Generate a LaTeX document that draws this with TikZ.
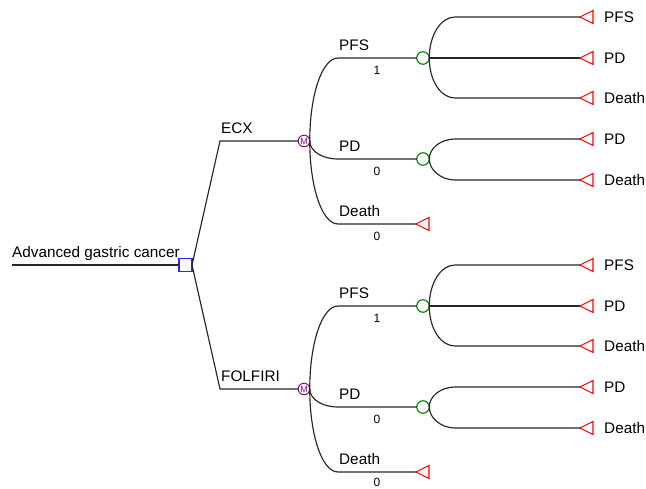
\documentclass[tikz,border=0pt]{standalone}
\usepackage{fontspec}
\setmainfont{Liberation Sans}
\usetikzlibrary{shapes.geometric}
\definecolor{mkv}{RGB}{153,0,153}
\definecolor{chc}{RGB}{0,128,0}
\definecolor{dcs}{RGB}{40,40,255}
\definecolor{trm}{RGB}{255,0,0}
\tikzset{
  branch/.style={draw=black!85, line width=1.15pt},
  markov/.style={circle, draw=mkv, line width=1pt, fill=white, inner sep=0pt, outer sep=0pt,
    minimum size=11.5pt, text=mkv, font=\fontsize{9}{9}\selectfont},
  chance/.style={circle, draw=chc, line width=1.1pt, fill=white, inner sep=0pt, outer sep=0pt, minimum size=12.5pt},
  decision/.style={rectangle, draw=dcs, line width=1.1pt, fill=white, inner sep=0pt, outer sep=0pt, minimum size=13pt},
  term/.style={isosceles triangle, isosceles triangle stretches, shape border rotate=180,
    draw=trm, line width=1.1pt, fill=white, inner sep=0pt, outer sep=0pt,
    minimum width=13pt, minimum height=13pt, anchor=apex},
  lbl/.style={inner sep=0pt, anchor=base west, font=\fontsize{15.3}{18}\selectfont},
  prob/.style={inner sep=0pt, anchor=base, font=\fontsize{12}{14}\selectfont},
}
\begin{document}
\begin{tikzpicture}[x=1pt,y=-1pt]
\useasboundingbox (0,0) rectangle (646,488);
\coordinate (root) at (12,265);
\node[decision] (dec) at (185.5,265) {};
\draw[branch] (root) -- (dec.west);
\node[lbl] (rootlbl) at (12,257) {Advanced gastric cancer};
\foreach \g/\lab/\dy/\nb in {1/ECX/0/240.5, 2/FOLFIRI/248/238} {
  \coordinate (arm\g) at (220,141+\dy);
  \node[markov] (m\g) at (304,141+\dy) {M};
  \draw[branch] (dec.east) -- (arm\g) -- (m\g.west);
  \node[lbl] (armlbl\g) at (221,133+\dy) {\lab};
  % first-level outcomes
  \coordinate (p\g) at (338,58+\dy);
  \coordinate (d\g) at (338,159+\dy);
  \coordinate (x\g) at (338,224+\dy);
  \node[chance] (cp\g) at (423,58+\dy) {};
  \node[chance] (cd\g) at (423,159+\dy) {};
  \node[term] (tx\g) at (416,224+\dy) {};
  \draw[branch] (m\g.east) .. controls +(0,-46) and +(-16,0) .. (p\g) -- (cp\g.west);
  \draw[branch] (m\g.east) .. controls +(0,10) and +(-16,0) .. (d\g) -- (cd\g.west);
  \draw[branch] (m\g.east) .. controls +(0,46) and +(-16,0) .. (x\g) -- (tx\g.apex);
  \node[lbl] (lp\g) at (339,50+\dy) {PFS};
  \node[lbl] (ld\g) at (339,151+\dy) {PD};
  \node[lbl] (lx\g) at (339,216+\dy) {Death};
  \node[prob] (np\g) at (377,74.5+\dy) {1};
  \node[prob] (nd\g) at (377,175.5+\dy) {0};
  \node[prob] (nx\g) at (377,\nb+\dy) {0};
  % second level after PFS
  \coordinate (pa\g) at (455,17+\dy);
  \coordinate (pc\g) at (455,98+\dy);
  \node[term] (tpa\g) at (580,17+\dy) {};
  \node[term] (tpb\g) at (580,58+\dy) {};
  \node[term] (tpc\g) at (580,98+\dy) {};
  \draw[branch] (cp\g.east) .. controls +(0,-23) and +(-14,0) .. (pa\g) -- (tpa\g.apex);
  \draw[branch] (cp\g.east) -- (tpb\g.apex);
  \draw[branch] (cp\g.east) .. controls +(0,23) and +(-14,0) .. (pc\g) -- (tpc\g.apex);
  \node[lbl] (lpa\g) at (604,22.5+\dy) {PFS};
  \node[lbl] (lpb\g) at (604,63.5+\dy) {PD};
  \node[lbl] (lpc\g) at (604,103.5+\dy) {Death};
  % second level after PD
  \coordinate (da\g) at (455,139+\dy);
  \coordinate (db\g) at (455,180+\dy);
  \node[term] (tda\g) at (580,139+\dy) {};
  \node[term] (tdb\g) at (580,180+\dy) {};
  \draw[branch] (cd\g.east) .. controls +(0,-11) and +(-14,0) .. (da\g) -- (tda\g.apex);
  \draw[branch] (cd\g.east) .. controls +(0,11) and +(-14,0) .. (db\g) -- (tdb\g.apex);
  \node[lbl] (lda\g) at (604,144.5+\dy) {PD};
  \node[lbl] (ldb\g) at (604,185.5+\dy) {Death};
}
\end{tikzpicture}
\end{document}
